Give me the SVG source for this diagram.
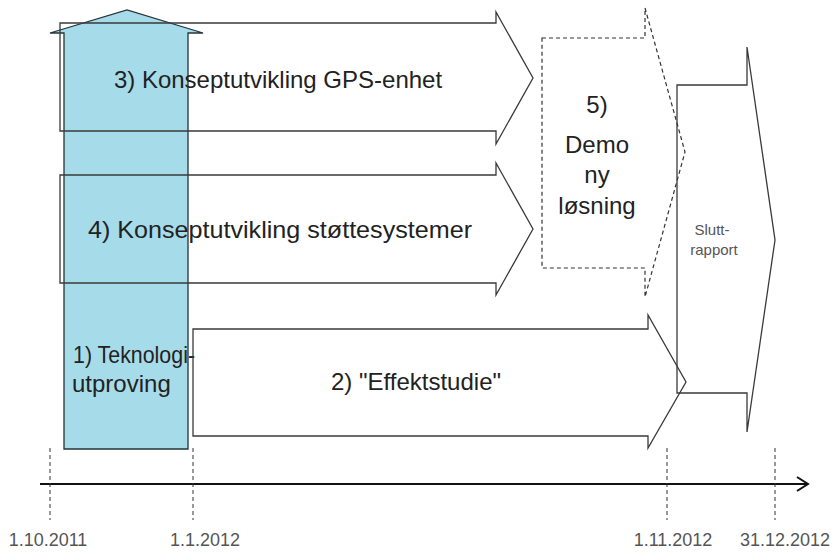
<svg xmlns="http://www.w3.org/2000/svg" width="832" height="552" viewBox="0 0 832 552">
<style>
.bg{fill:#ffffff}
.arr{fill:none;stroke:#3a3a3a;stroke-width:1.3;stroke-linejoin:miter}
.dash{fill:none;stroke:#333;stroke-width:1.2;stroke-dasharray:4 3}
.blue{fill:#a6dce9;stroke:#24343a;stroke-width:1.3}
.lbl{font-family:"Liberation Sans",Arial,sans-serif;font-size:24px;fill:#222}
.small{font-family:"Liberation Sans",Arial,sans-serif;font-size:15px;fill:#555}
.date{font-family:"Liberation Sans",Arial,sans-serif;font-size:18px;fill:#555}
.tick{stroke:#333;stroke-width:1;stroke-dasharray:4 3}
.axis{stroke:#111;stroke-width:2;fill:none}
</style>
<rect class="bg" x="0" y="0" width="832" height="552"/>
<g id="node1">
<path class="blue" d="M64,449 L64,33 L50,33 L127,10 L203,33 L188,33 L188,449 Z"/>
</g>
<g id="node3">
<path class="arr" d="M60,23 L496,23 L496,12 L533,78 L496,144 L496,131 L60,131 Z"/>
<text class="lbl" x="278" y="88" text-anchor="middle">3) Konseptutvikling GPS-enhet</text>
</g>
<g id="node4">
<path class="arr" d="M60,175 L496,175 L496,163 L533,229 L496,295 L496,283 L60,283 Z"/>
<text class="lbl" x="280" y="238" text-anchor="middle" textLength="384" lengthAdjust="spacingAndGlyphs">4) Konseptutvikling støttesystemer</text>
</g>
<g id="node1-label">
<text class="lbl" x="73" y="363" textLength="122" lengthAdjust="spacingAndGlyphs">1) Teknologi-</text>
<text class="lbl" x="72" y="392">utproving</text>
</g>
<g id="node2">
<path class="arr" d="M193,329 L648,329 L648,315 L686,382 L648,448 L648,436 L193,436 Z"/>
<text class="lbl" x="416" y="390" text-anchor="middle">2) "Effektstudie"</text>
</g>
<g id="node5">
<path class="dash" d="M542,38 L645,38 L645,8 L685,152 L645,297 L645,268 L542,268 Z"/>
<text class="lbl" x="597" y="113" text-anchor="middle">5)</text>
<text class="lbl" x="597" y="153" text-anchor="middle">Demo</text>
<text class="lbl" x="597" y="183" text-anchor="middle">ny</text>
<text class="lbl" x="597" y="214" text-anchor="middle">løsning</text>
</g>
<g id="node6">
<path class="arr" d="M677,85 L747,85 L747,47 L775,240 L747,432 L747,393 L677,393 Z"/>
<text class="small" x="712" y="235" text-anchor="middle">Slutt-</text>
<text class="small" x="714" y="255" text-anchor="middle">rapport</text>
</g>
<g id="connectors">
<line class="axis" x1="40" y1="484" x2="807" y2="484"/>
<path class="axis" d="M797,477 L808,484 L797,491"/>
<line class="tick" x1="50" y1="448" x2="50" y2="520"/>
<line class="tick" x1="193" y1="448" x2="193" y2="520"/>
<line class="tick" x1="667" y1="448" x2="667" y2="520"/>
<line class="tick" x1="775" y1="448" x2="775" y2="520"/>
</g>
<g id="dates">
<text class="date" x="48" y="546" text-anchor="middle">1.10.2011</text>
<text class="date" x="205" y="546" text-anchor="middle">1.1.2012</text>
<text class="date" x="673" y="546" text-anchor="middle">1.11.2012</text>
<text class="date" x="785" y="546" text-anchor="middle">31.12.2012</text>
</g>
</svg>
